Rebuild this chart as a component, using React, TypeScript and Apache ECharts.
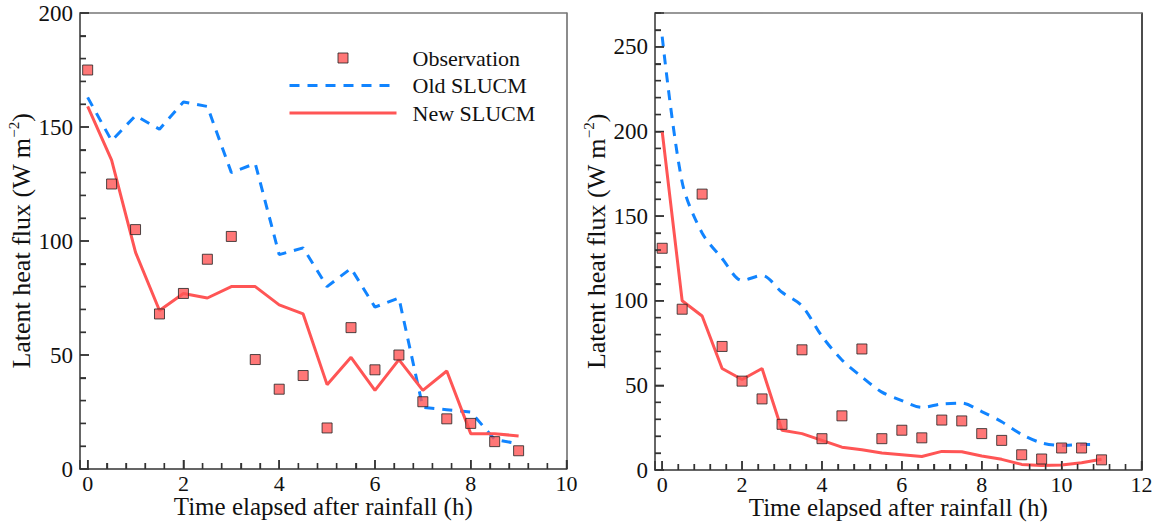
import React, { useEffect, useRef } from "react";
import * as echarts from "echarts";

// ---- Data ----
const leftTimes = [0, 0.5, 1, 1.5, 2, 2.5, 3, 3.5, 4, 4.5, 5, 5.5, 6, 6.5, 7, 7.5, 8, 8.5, 9];
const leftObservation = [175, 125, 105, 68, 77, 92, 102, 48, 35, 41, 18, 62, 43.5, 50, 29.5, 22, 20, 12, 8];
const leftOld = [163, 144, 155, 149, 161, 159, 130, 134, 94, 97, 80, 88, 71, 75, 27, 26, 25, 13, 11];
const leftNew = [159, 135.5, 95, 69.5, 77, 75, 80, 80, 72, 68, 37, 49, 34.5, 48, 34.5, 43, 15.5, 15.5, 14.5];

const rightTimes = [0, 0.5, 1, 1.5, 2, 2.5, 3, 3.5, 4, 4.5, 5, 5.5, 6, 6.5, 7, 7.5, 8, 8.5, 9, 9.5, 10, 10.5, 11];
const rightObservation = [131, 95, 163, 73, 52.5, 42, 27, 71, 18.5, 32, 71.5, 18.5, 23.5, 19, 29.5, 29, 21.5, 17.5, 9, 6.5, 13, 13, 6];
const rightOldTimes = [0, 0.5, 1, 1.5, 2, 2.5, 3, 3.5, 4, 4.5, 5, 5.5, 6, 6.5, 7, 7.5, 8, 8.5, 9, 9.5, 10, 10.5, 10.8];
const rightOld = [256, 170, 140, 125, 112, 115, 105, 97, 79, 65, 55, 46, 41, 37, 39, 39.5, 34.5, 28.5, 21, 16, 14.5, 15, 15];
const rightNew = [200, 100, 91, 60, 53.5, 60, 23.5, 21.5, 17.5, 13.5, 12, 10, 9, 8, 11, 10.8, 8.3, 6.3, 3.3, 2.7, 3, 4.3, 6.3];

const seriesNames = ["Observation", "Old SLUCM", "New SLUCM"];
const xTitle = "Time elapsed after rainfall (h)";
const yTitle = "{n|Latent heat flux (W m}{s|−2}{n|)}";

// Axis ranges and tick steps
const leftXRange = [-0.16, 10];
const rightXRange = [-0.18, 12];
const leftYMax = 200;
const rightYMax = 270;
const xMajorStep = 2;
const xMinorStep = 0.4;
const yMajorStep = 50;
const yMinorStep = 10;

const FONT = "Liberation Serif";
const RED = "#ff5555";
const BLUE = "#1184ff";
const AXIS = "#333";

const pair = (xs: number[], ys: number[]) => xs.map((x, i) => [x, ys[i]]);

function tickValues(max: number, step: number) {
  const out: number[] = [];
  for (let k = 0; k * step <= max + 1e-9; k++) out.push(Math.round(k * step * 1000) / 1000);
  return out;
}
const isMultiple = (v: number, step: number) => Math.abs(v / step - Math.round(v / step)) < 1e-6;

function xAxisCfg(gridIndex: number, range: number[], split: number) {
  return {
    type: "value",
    gridIndex,
    position: "bottom",
    min: range[0],
    max: range[1],
    splitNumber: split,
    name: xTitle,
    nameLocation: "middle",
    nameGap: 25,
    nameMoveOverlap: false,
    nameTextStyle: { fontFamily: FONT, fontSize: 25, color: "#111" },
    axisLine: { show: true, onZero: false, lineStyle: { color: AXIS, width: 1.5 } },
    axisTick: { show: true, inside: true, length: 9, lineStyle: { color: AXIS, width: 1.5 } },
    minorTick: { show: true, splitNumber: 5, length: 6, lineStyle: { color: AXIS, width: 1.3 } },
    splitLine: { show: false },
    axisLabel: {
      show: true,
      fontFamily: FONT,
      fontSize: 22,
      color: "#111",
      margin: 3,
      formatter: (v: number) => (Math.abs(v - Math.round(v)) < 1e-6 ? String(Math.round(v)) : ""),
    },
  };
}

function yAxisCfg(gridIndex: number, max: number) {
  return {
    type: "value",
    gridIndex,
    position: "left",
    min: 0,
    max,
    interval: yMajorStep,
    name: yTitle,
    nameLocation: "middle",
    nameRotate: 90,
    nameGap: 44,
    nameMoveOverlap: false,
    nameTextStyle: {
      fontFamily: FONT,
      fontSize: 26,
      color: "#111",
      rich: {
        n: { fontFamily: FONT, fontSize: 26, color: "#111", lineHeight: 30 },
        s: { fontFamily: FONT, fontSize: 15, color: "#111", verticalAlign: "top" },
      },
    },
    axisLine: { show: true, onZero: false, lineStyle: { color: AXIS, width: 1.5 } },
    axisTick: { show: true, inside: true, length: 9, lineStyle: { color: AXIS, width: 1.5 } },
    minorTick: { show: true, splitNumber: 5, length: 6, lineStyle: { color: AXIS, width: 1.3 } },
    splitLine: { show: false },
    axisLabel: {
      show: true,
      fontFamily: FONT,
      fontSize: 23,
      color: "#111",
      margin: 7,
      formatter: (v: number) => (v % yMajorStep === 0 ? String(v) : ""),
    },
  };
}

function seriesFor(idx: number, obsX: number[], obs: number[], oldX: number[], old: number[], newX: number[], nw: number[], smoothOld: number) {
  return [
    {
      name: seriesNames[0],
      type: "scatter",
      xAxisIndex: idx,
      yAxisIndex: idx,
      symbol: "rect",
      symbolSize: 10,
      z: 5,
      itemStyle: { color: RED, borderColor: "#222", borderWidth: 1 },
      data: pair(obsX, obs),
    },
    {
      name: seriesNames[1],
      type: "line",
      xAxisIndex: idx,
      yAxisIndex: idx,
      symbol: "none",
      smooth: smoothOld,
      z: 3,
      lineStyle: { color: BLUE, width: 3, type: [10, 8] },
      itemStyle: { color: BLUE },
      data: pair(oldX, old),
    },
    {
      name: seriesNames[2],
      type: "line",
      xAxisIndex: idx,
      yAxisIndex: idx,
      symbol: "none",
      z: 4,
      lineStyle: { color: RED, width: 3 },
      itemStyle: { color: RED },
      data: pair(newX, nw),
    },
  ];
}

function borderX(gridIndex: number, range: number[], color: string) {
  return {
    type: "value", gridIndex, position: "top", min: range[0], max: range[1],
    axisLine: { show: true, onZero: false, lineStyle: { color, width: 1.5 } },
    axisTick: { show: false }, minorTick: { show: false }, axisLabel: { show: false }, splitLine: { show: false },
  };
}
function borderY(gridIndex: number, max: number, color: string) {
  return {
    type: "value", gridIndex, position: "right", min: 0, max,
    axisLine: { show: true, onZero: false, lineStyle: { color, width: 1.5 } },
    axisTick: { show: false }, minorTick: { show: false }, axisLabel: { show: false }, splitLine: { show: false },
  };
}

// Tick marks as graphic lines, positioned with the chart's own axis scales
function tickGraphics(chart: any, gridIndex: number, xMin: number, xMax: number, yMax: number) {
  const els: any[] = [];
  tickValues(xMax, xMinorStep).forEach((v) => {
    const p = chart.convertToPixel({ gridIndex }, [v, 0]);
    if (!p) return;
    const len = isMultiple(v, xMajorStep) ? 9 : 6;
    els.push({
      type: "line",
      silent: true,
      z: 50,
      shape: { x1: p[0], y1: p[1], x2: p[0], y2: p[1] - len },
      style: { stroke: AXIS, lineWidth: 1.4 },
    });
  });
  tickValues(yMax, yMinorStep).forEach((v) => {
    const p = chart.convertToPixel({ gridIndex }, [xMin, v]);
    if (!p) return;
    const len = isMultiple(v, yMajorStep) ? 9 : 6;
    els.push({
      type: "line",
      silent: true,
      z: 50,
      shape: { x1: p[0], y1: p[1], x2: p[0] + len, y2: p[1] },
      style: { stroke: AXIS, lineWidth: 1.4 },
    });
  });
  return els;
}

export default function App() {
  const ref = useRef<HTMLDivElement>(null);
  useEffect(() => {
    if (!ref.current) return;
    const chart = echarts.init(ref.current, undefined, { renderer: "svg" });
    const option = {
      animation: false,
      backgroundColor: "#ffffff",
      grid: [
        { left: 80, top: 13, width: 486.5, height: 456, show: false, outerBoundsMode: "none", containLabel: false },
        { left: 655, top: 13, width: 486.5, height: 457, show: false, outerBoundsMode: "none", containLabel: false },
      ],
      xAxis: [
        xAxisCfg(0, leftXRange, 5),
        xAxisCfg(1, rightXRange, 6),
        borderX(0, leftXRange, "#777"),
        borderX(1, rightXRange, "#777"),
      ],
      yAxis: [
        yAxisCfg(0, leftYMax),
        yAxisCfg(1, rightYMax),
        borderY(0, leftYMax, "#666"),
        borderY(1, rightYMax, "#111"),
      ],
      legend: {
        orient: "vertical",
        left: 288,
        top: 47,
        padding: 0,
        itemWidth: 107,
        itemHeight: 10,
        itemGap: 5.5,
        selectedMode: false,
        formatter: "{g| }{name}",
        textStyle: {
          fontFamily: FONT,
          fontSize: 22,
          color: "#111",
          lineHeight: 22,
          rich: { g: { width: 11 } },
        },
        lineStyle: { width: 3 },
        data: [
          {
            name: seriesNames[0],
            icon: "path://M0,0L10,0L10,10L0,10Z",
            itemStyle: { color: RED, borderColor: "#222", borderWidth: 1 },
          },
          {
            name: seriesNames[1],
            itemStyle: { color: "transparent", borderColor: "transparent", borderWidth: 0 },
          },
          {
            name: seriesNames[2],
            itemStyle: { color: "transparent", borderColor: "transparent", borderWidth: 0 },
          },
        ],
      },
      series: [
        ...seriesFor(0, leftTimes, leftObservation, leftTimes, leftOld, leftTimes, leftNew, 0),
        ...seriesFor(1, rightTimes, rightObservation, rightOldTimes, rightOld, rightTimes, rightNew, 0.3),
      ],
    };
    chart.setOption(option as any);
    try {
      const ticks = [
        ...tickGraphics(chart, 0, leftXRange[0], leftXRange[1], leftYMax),
        ...tickGraphics(chart, 1, rightXRange[0], rightXRange[1], rightYMax),
      ];
      chart.setOption({ graphic: ticks } as any);
    } catch (e) {
      // keep the chart even if tick placement fails
    }
    return () => chart.dispose();
  }, []);
  return (
    <div
      ref={ref}
      style={{ position: "fixed", left: 0, top: 0, width: 1159, height: 525, background: "#fff" }}
    />
  );
}
